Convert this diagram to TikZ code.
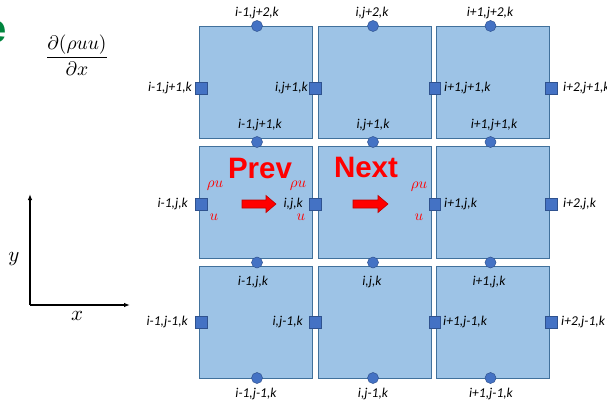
\documentclass[tikz,border=0pt]{standalone}
\usepackage{fontspec}
\setmainfont{Carlito}
\newfontfamily\headfont{Liberation Sans}
\usetikzlibrary{arrows.meta}
\definecolor{cellfill}{HTML}{9DC3E6}
\definecolor{celledge}{HTML}{41719C}
\definecolor{markfill}{HTML}{4472C4}
\definecolor{markedge}{HTML}{2F528F}
\definecolor{notegreen}{HTML}{00853E}
\definecolor{arrowedge}{HTML}{C00000}

\begin{document}
\begin{tikzpicture}[x=1pt,y=-1pt,
  cell/.style={draw=celledge, fill=cellfill, line width=0.9pt,
    minimum width=113pt, minimum height=112pt, inner sep=0pt},
  facesq/.style={draw=markedge, fill=markfill, line width=0.5pt,
    minimum size=11.5pt, inner sep=0pt},
  facedot/.style={circle, draw=markedge, fill=markfill, line width=0.5pt,
    minimum size=11pt, inner sep=0pt},
  lab/.style={font=\itshape\fontsize{13.5}{14}\selectfont, inner sep=1pt},
  redlab/.style={text=red, inner sep=0pt, scale=1.5},
  bigword/.style={text=red, font=\headfont\bfseries\fontsize{29.5}{30}\selectfont, inner sep=0pt},
  flowarrow/.style={fill=red, draw=arrowedge, line width=0.6pt, line join=miter},
  axis/.style={line width=1.1pt, -{Latex[length=6pt,width=4.5pt]}},
  mathlab/.style={inner sep=0pt, scale=2.1}
]
\useasboundingbox (0,0) rectangle (607,404);

% cut-off heading letter
\node[text=notegreen, font=\headfont\bfseries\fontsize{40}{40}\selectfont,
  anchor=base east, inner sep=0pt] (head) at (7,42) {e};

% flux derivative
\node[inner sep=0pt, scale=1.95] (flux) at (77,55)
  {$\displaystyle\frac{\partial(\rho u u)}{\partial x}$};

% coordinate axes
\coordinate (O) at (30,305);
\coordinate (Ytip) at (30,194);
\coordinate (Xtip) at (130,305);
\draw[axis] (O) -- (Ytip);
\draw[axis] (O) -- (Xtip);
\node[mathlab] (ylab) at (14,259) {$y$};
\node[mathlab] (xlab) at (77,316) {$x$};

% 3x3 control volumes
\foreach \cx/\c in {255.5/1,375/2,493/3}
  \foreach \cy/\r in {82/1,202/2,322/3}
    \node[cell] (c\c\r) at (\cx,\cy) {};

% face-centred points on vertical faces
\foreach \sx/\s in {201/0,315/1,434.5/2,551/3}
  \foreach \sy/\r in {88/1,204/2,322/3}
    \node[facesq] (s\s\r) at (\sx,\sy) {};

% face-centred points on horizontal faces
\foreach \sx/\s in {257/1,373/2,490.5/3}
  \foreach \sy/\r in {26/0,142/1,262.5/2,378/3}
    \node[facedot] (d\s\r) at (\sx,\sy) {};

% labels of the horizontal faces
\node[lab] (t1) at (257,13) {i-1,j+2,k};
\node[lab] (t2) at (372,13) {i,j+2,k};
\node[lab] (t3) at (490,13) {i+1,j+2,k};
\node[lab] (u1) at (260,125) {i-1,j+1,k};
\node[lab] (u2) at (373,125) {i,j+1,k};
\node[lab] (u3) at (494,125) {i+1,j+1,k};
\node[lab] (m1) at (253,282) {i-1,j,k};
\node[lab] (m2) at (372,282) {i,j,k};
\node[lab] (m3) at (489,282) {i+1,j,k};
\node[lab] (b1) at (256,394) {i-1,j-1,k};
\node[lab] (b2) at (373,394) {i,j-1,k};
\node[lab] (b3) at (491,394) {i+1,j-1,k};

% labels of the vertical faces
\node[lab, anchor=east] (r1a) at (193,88) {i-1,j+1,k};
\node[lab, anchor=east] (r1b) at (309,88) {i,j+1,k};
\node[lab, anchor=west] (r1c) at (443,88) {i+1,j+1,k};
\node[lab, anchor=west] (r1d) at (562,88) {i+2,j+1,k};
\node[lab, anchor=east] (r2a) at (189,204) {i-1,j,k};
\node[lab, anchor=east] (r2b) at (304,204) {i,j,k};
\node[lab, anchor=west] (r2c) at (443,204) {i+1,j,k};
\node[lab, anchor=west] (r2d) at (562,204) {i+2,j,k};
\node[lab, anchor=east] (r3a) at (189,322) {i-1,j-1,k};
\node[lab, anchor=east] (r3b) at (304,322) {i,j-1,k};
\node[lab, anchor=west] (r3c) at (442,322) {i+1,j-1,k};
\node[lab, anchor=west] (r3d) at (560,322) {i+2,j-1,k};

% previous and next cells
\node[bigword] (prev) at (260,168) {Prev};
\node[bigword] (next) at (366,167) {Next};

% transported quantities
\node[redlab] (pu1) at (215,186) {$\rho u$};
\node[redlab] (uu1) at (214,217) {$u$};
\node[redlab] (pu2) at (298,186) {$\rho u$};
\node[redlab] (uu2) at (301,217) {$u$};
\node[redlab] (pu3) at (419,187) {$\rho u$};
\node[redlab] (uu3) at (419,217) {$u$};

% flow direction arrows
\begin{scope}[shift={(242,204)}]
  \filldraw[flowarrow] (0,-4) -- (24,-4) -- (24,-8.5) -- (34,0)
    -- (24,8.5) -- (24,4) -- (0,4) -- cycle;
\end{scope}
\begin{scope}[shift={(353,204)}]
  \filldraw[flowarrow] (0,-4) -- (25,-4) -- (25,-8.5) -- (35,0)
    -- (25,8.5) -- (25,4) -- (0,4) -- cycle;
\end{scope}
\end{tikzpicture}
\end{document}
